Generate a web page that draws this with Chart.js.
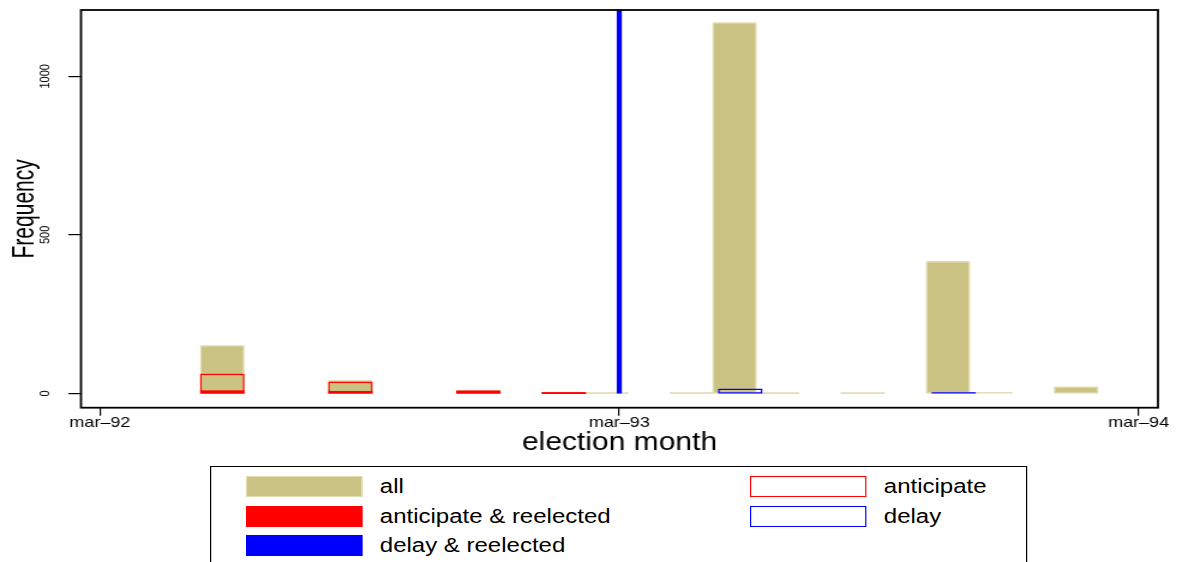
<!DOCTYPE html>
<html>
<head>
<meta charset="utf-8">
<title>election month histogram</title>
<script src="https://cdn.jsdelivr.net/npm/chart.js@4/dist/chart.umd.min.js"></script>
<style>
  html, body { margin: 0; padding: 0; background: #fff; overflow: hidden; }
  /* the figure is laid out at 981px and widened to the 1177px window */
  #stage { position: absolute; left: 0; top: 0; width: 981px; height: 562px;
           transform: scaleX(1.2); transform-origin: 0 0; }
  #c { position: absolute; left: 0; top: 0; }
  #legend { position: absolute; left: 175px; top: 466px; width: 681px; height: 120px;
            border: 1.5px solid #000; box-sizing: border-box; background: #fff;
            font-family: "Liberation Sans", Arial, sans-serif; font-size: 20px; color: #000; }
  .item { position: absolute; display: flex; align-items: center; height: 22px; white-space: nowrap; }
  .sw { width: 97px; height: 21px; box-sizing: border-box; flex: none; }
  .lab { margin-left: 15px; }
</style>
</head>
<body>
<div id="stage">
  <canvas id="c" width="981" height="562"></canvas>
  <div id="legend"></div>
</div>
<script>
// 30-day bins; positions are days after 1 March 1992
const binCentres = [86, 116, 146, 176, 206, 236, 266, 296, 326, 356, 386,
                    416, 446, 476, 506, 536, 566, 596, 626, 656, 686, 716];
const delayBinCentres = [90, 120, 150, 180, 210, 240, 270, 300, 330, 360, 390,
                         420, 450, 480, 510, 540, 570, 600, 630, 660, 690, 720];

const allCounts                 = [150, 0, 0, 40, 0, 0, 7, 0, 1, 1, 0, 1, 1168, 1, 0, 1, 0, 415, 2, 0, 20, 0];
const anticipateCounts          = [60, 0, 0, 35, 0, 0, 7, 0, 1, 0, 0, 0, 0, 0, 0, 0, 0, 0, 0, 0, 0, 0];
const anticipateReelectedCounts = [8, 0, 0, 6, 0, 0, 7, 0, 1, 0, 0, 0, 0, 0, 0, 0, 0, 0, 0, 0, 0, 0];
const delayCounts               = [0, 0, 0, 0, 0, 0, 0, 0, 0, 0, 0, 0, 13, 0, 0, 0, 0, 2, 0, 0, 0, 0];
const delayReelectedDays        = [365];
const delayReelectedCounts      = [1250];

const seriesLabels = ['all', 'anticipate', 'anticipate & reelected', 'delay', 'delay & reelected'];
const tickDays   = [0, 365, 730];
const tickLabels = ['mar–92', 'mar–93', 'mar–94'];
const yTickValues = [0, 500, 1000];
const yTitle = 'Frequency';

const GOLD = '#CBC383';
const GOLD_EDGE = '#E2DBB4';
const RED = '#FF0000';
const BLUE = '#0000FF';
const FONT = '"Liberation Sans", Arial, sans-serif';

const pts = (xs, ys) => xs.map((x, i) => ({ x: x, y: ys[i] }));

const barCommon = {
  type: 'bar', grouped: false, categoryPercentage: 1, barPercentage: 1,
  borderWidth: 0, inflateAmount: 0
};

const datasets = [
  Object.assign({}, barCommon, { label: seriesLabels[0], data: pts(binCentres, allCounts),
    backgroundColor: GOLD, outlineColor: GOLD_EDGE, outlineWidth: 1.3, xAxisID: 'x', order: 5 }),
  Object.assign({}, barCommon, { label: seriesLabels[1], data: pts(binCentres, anticipateCounts),
    backgroundColor: 'rgba(0,0,0,0)', outlineColor: RED, outlineWidth: 1.2, xAxisID: 'x', order: 4 }),
  Object.assign({}, barCommon, { label: seriesLabels[2], data: pts(binCentres, anticipateReelectedCounts),
    backgroundColor: RED, outlineColor: RED, outlineWidth: 1.2, xAxisID: 'x', order: 3 }),
  Object.assign({}, barCommon, { label: seriesLabels[3], data: pts(delayBinCentres, delayCounts),
    backgroundColor: 'rgba(0,0,0,0)', outlineColor: BLUE, outlineWidth: 1.2, xAxisID: 'x2', order: 2 }),
  Object.assign({}, barCommon, { label: seriesLabels[4], data: pts(delayReelectedDays, delayReelectedCounts),
    backgroundColor: BLUE, outlineColor: BLUE, outlineWidth: 1.2, barThickness: 3, xAxisID: 'x3', order: 1 })
];

// histogram-style outlines, centred on each bar edge and drawn in dataset order
const outlinePlugin = {
  id: 'barOutline',
  afterDatasetDraw(chart, args) {
    const ds = chart.data.datasets[args.index];
    if (!ds.outlineColor) return;
    const { ctx, chartArea: a } = chart;
    ctx.save();
    ctx.beginPath();
    ctx.rect(a.left, a.top, a.right - a.left, a.bottom - a.top);
    ctx.clip();
    ctx.strokeStyle = ds.outlineColor;
    ctx.lineWidth = ds.outlineWidth;
    args.meta.data.forEach((el, i) => {
      if (!ds.data[i] || !ds.data[i].y) return;
      const p = el.getProps(['x', 'y', 'base', 'width'], true);
      const top = Math.min(p.y, p.base);
      ctx.strokeRect(p.x - p.width / 2, top, p.width, Math.abs(p.base - p.y));
    });
    ctx.restore();
  }
};

// plot frame, vertical y tick labels and the tall y-axis title
const framePlugin = {
  id: 'frameAndYLabels',
  afterDraw(chart) {
    const { ctx, chartArea: a } = chart;
    const y = chart.scales.y;
    ctx.save();
    ctx.strokeStyle = '#000';
    ctx.lineWidth = 1.8;
    ctx.strokeRect(a.left, a.top, a.right - a.left, a.bottom - a.top);
    ctx.fillStyle = '#000';
    ctx.textAlign = 'center';
    ctx.textBaseline = 'alphabetic';
    ctx.font = '11px ' + FONT;
    y.ticks.forEach(t => {
      ctx.save();
      ctx.translate(a.left - 26.4, y.getPixelForValue(t.value));
      ctx.rotate(-Math.PI / 2);
      ctx.fillText(String(t.value), 0, 0);
      ctx.restore();
    });
    ctx.font = '21px ' + FONT;
    ctx.translate(27.5, (a.top + a.bottom) / 2);
    ctx.rotate(-Math.PI / 2);
    ctx.scale(1, 1.25);
    ctx.fillText(yTitle, 0, 0);
    ctx.restore();
  }
};

const setDayTicks = scale => { scale.ticks = tickDays.map(v => ({ value: v })); };
const hiddenDayAxis = { type: 'linear', display: false, min: -13.3, max: 743.6, offset: false,
                        afterBuildTicks: setDayTicks };

new Chart(document.getElementById('c'), {
  type: 'bar',
  data: { datasets: datasets },
  options: {
    responsive: false,
    animation: false,
    devicePixelRatio: 1,
    layout: { padding: { left: 0, top: 10, right: 16, bottom: 103.7 } },
    plugins: { legend: { display: false }, tooltip: { enabled: false } },
    scales: {
      x: {
        type: 'linear', position: 'bottom', min: -13.3, max: 743.6, offset: false,
        afterBuildTicks: setDayTicks,
        afterFit: s => { s.height = 50.6; },
        grid: { display: true, drawOnChartArea: false, drawTicks: true, tickLength: 8,
                color: '#000', lineWidth: 1.2, offset: false },
        border: { display: false },
        ticks: { autoSkip: false, maxRotation: 0, minRotation: 0, padding: 0, color: '#000',
                 font: { family: FONT, size: 15, lineHeight: 1 },
                 callback: (v) => tickLabels[tickDays.indexOf(v)] },
        title: { display: true, text: 'election month', color: '#000',
                 font: { family: FONT, size: 25 }, padding: { top: 0, bottom: 0 } }
      },
      x2: Object.assign({}, hiddenDayAxis),
      x3: Object.assign({}, hiddenDayAxis),
      y: {
        type: 'linear', position: 'left', min: -44.8, max: 1209,
        afterBuildTicks: s => { s.ticks = yTickValues.map(v => ({ value: v })); },
        afterFit: s => { s.width = 67.5; },
        grid: { display: true, drawOnChartArea: false, drawTicks: true, tickLength: 10.5,
                color: '#000', lineWidth: 1.2 },
        border: { display: false },
        ticks: { display: false },
        title: { display: false }
      }
    }
  },
  plugins: [outlinePlugin, framePlugin]
});

// two-column boxed legend, filled row by row
const legendEl = document.getElementById('legend');
const colLeft = [28.5, 448.5];
const rowTop = [8.5, 38, 67];
datasets.forEach((ds, i) => {
  const item = document.createElement('div');
  item.className = 'item';
  item.style.left = colLeft[i % 2] + 'px';
  item.style.top = rowTop[Math.floor(i / 2)] + 'px';
  const sw = document.createElement('div');
  sw.className = 'sw';
  sw.style.background = ds.backgroundColor === 'rgba(0,0,0,0)' ? '#fff' : ds.backgroundColor;
  sw.style.border = '1.3px solid ' + ds.outlineColor;
  const lab = document.createElement('span');
  lab.className = 'lab';
  lab.textContent = ds.label;
  item.appendChild(sw);
  item.appendChild(lab);
  legendEl.appendChild(item);
});
</script>
</body>
</html>
